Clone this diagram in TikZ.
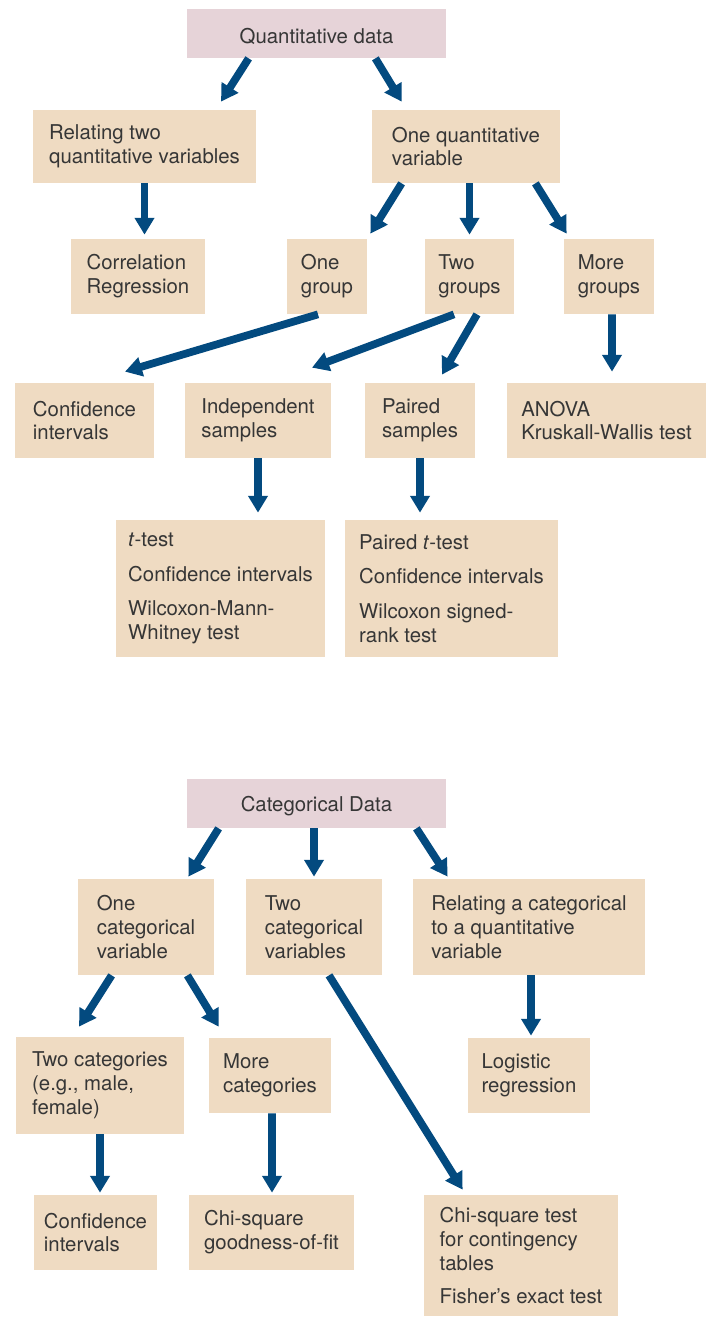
\documentclass[tikz,border=0pt]{standalone}
\usepackage{fontspec}
\setmainfont{TeX Gyre Heros}
\usetikzlibrary{calc}
\usetikzlibrary{arrows.meta}
\definecolor{headpink}{HTML}{E6D3D8}
\definecolor{boxtan}{HTML}{EFDBC2}
\definecolor{flowblue}{HTML}{034A7F}
\definecolor{inkgray}{HTML}{363636}
\tikzset{
    boxsize/.style 2 args = {minimum width=#1*0.02cm, minimum height=#2*0.02cm},
    panel/.style = {inner sep=0pt, align=left, text=inkgray, font=\fontsize{11.6}{13.6}\selectfont,
        execute at begin node={\rule{0pt}{12pt}}},
    header/.style = {panel, fill=headpink},
    choice/.style = {panel, fill=boxtan},
    flow/.style = {draw=flowblue, line width=4.4pt, -{Triangle[width=10.8pt,length=9.6pt]}}}

\begin{document}
\begin{tikzpicture}[x=0.02cm, y=-0.02cm]
    \useasboundingbox (0,0) rectangle (712,1318);
    % quantitative data
    \path (316.5,33.5) node[header,boxsize={259}{49}] (QD) {Quantitative data}
        (144.5,146.5) node[choice,boxsize={223}{73}] (RT) {Relating two\\quantitative variables}
        (466,146.5) node[choice,boxsize={188}{73}] (OQ) {One quantitative\\variable}
        (138,276.5) node[choice,boxsize={134}{75}] (CR) {Correlation\\Regression}
        (327,276.5) node[choice,boxsize={80}{75}] (OG) {One\\group}
        (469.5,276.5) node[choice,boxsize={89}{75}] (TG) {Two\\groups}
        (609,276.5) node[choice,boxsize={90}{75}] (MG) {More\\groups}
        (84.5,420.5) node[choice,boxsize={139}{75}] (CIq) {Confidence\\intervals}
        (258,420.5) node[choice,boxsize={146}{75}] (IS) {Independent\\samples}
        (420,420.5) node[choice,boxsize={110}{75}] (PS) {Paired\\samples}
        (606.5,420.5) node[choice,boxsize={199}{75}] (AN) {ANOVA\\Kruskall-Wallis test}
        (220.5,588.5) node[choice,boxsize={209}{137}] (TT) {\textit{t}-test\\[6.2pt]Confidence intervals\\[6.2pt]Wilcoxon-Mann-\\Whitney test}
        (451.5,588.5) node[choice,boxsize={213}{137}] (PT) {Paired \textit{t}-test\\[6.2pt]Confidence intervals\\[6.2pt]Wilcoxon signed-\\rank test};
    \draw[flow] ($(QD.south west)+(62,0)$) -- ($(RT.north)+(76.5,-8)$);
    \draw[flow] ($(QD.south east)+(-71,0)$) -- ($(OQ.north west)+(30,-8)$);
    \draw[flow] (RT.south) -- ($(RT.south |- CR.north)+(0,-4)$);
    \draw[flow] ($(OQ.south west)+(30,0)$) -- ($(OG.north east)+(3,-5)$);
    \draw[flow] (TG.north |- OQ.south) -- ($(TG.north)+(0,-4)$);
    \draw[flow] ($(OQ.south east)+(-25,0)$) -- ($(MG.north west)+(3,-5)$);
    \draw[flow] ($(OG.south)+(-9,0)$) -- ($(CIq.north)+(40.5,-11)$);
    \draw[flow] ($(TG.south)+(-15.5,0)$) -- ($(IS.north)+(54,-15)$);
    \draw[flow] ($(TG.south)+(7.5,0)$) -- ($(PS.north)+(22,-8)$);
    \draw[flow] ($(MG.south)+(3,0)$) -- ($(AN.north)+(5.5,-11)$);
    \draw[flow] (IS.south) -- ($(IS.south |- TT.north)+(0,-7)$);
    \draw[flow] (PS.south) -- ($(PS.south |- PT.north)+(0,-7)$);
    % categorical data
    \path (316.5,803.5) node[header,boxsize={259}{49}] (CD) {Categorical Data}
        (146,927) node[choice,boxsize={136}{96}] (OC) {One\\categorical\\variable}
        (314,927) node[choice,boxsize={136}{96}] (TC) {Two\\categorical\\variables}
        (529,927) node[choice,boxsize={232}{96}] (RC) {Relating a categorical\\to a quantitative\\variable}
        (100,1085.5) node[choice,boxsize={168}{97}] (TK) {Two categories\\(e.g., male,\\female)}
        (270,1075.5) node[choice,boxsize={122}{75}] (MC) {More\\categories}
        (529,1075.5) node[choice,boxsize={122}{75}] (LR) {Logistic\\regression}
        (95.5,1232.5) node[choice,boxsize={123}{75}] (CIc) {Confidence\\intervals}
        (271.5,1232.5) node[choice,boxsize={165}{75}] (GF) {Chi-square\\goodness-of-fit}
        (521,1255.5) node[choice,boxsize={194}{121}] (CT) {Chi-square test\\for contingency\\tables\\[5.6pt]Fisher’s exact test};
    \draw[flow] ($(CD.south west)+(32,0)$) -- ($(OC.north east)+(-26,-2)$);
    \draw[flow] (TC.north |- CD.south) -- ($(TC.north)+(0,-2)$);
    \draw[flow] ($(CD.south east)+(-30,0)$) -- ($(RC.north west)+(35,-2)$);
    \draw[flow] ($(OC.south west)+(34,0)$) -- ($(TK.north)+(-21,-10)$);
    \draw[flow] ($(OC.south east)+(-27,0)$) -- ($(MC.north west)+(10,-11)$);
    \draw[flow] ($(TC.south)+(15,0)$) -- ($(CT.north west)+(39,-5)$);
    \draw[flow] ($(RC.south)+(2,0)$) -- ($(LR.north)+(2,-2)$);
    \draw[flow] (TK.south) -- ($(TK.south |- CIc.north)+(0,-2)$);
    \draw[flow] ($(MC.south)+(2,0)$) -- ($(GF.north)+(0.5,-2)$);
\end{tikzpicture}
\end{document}
